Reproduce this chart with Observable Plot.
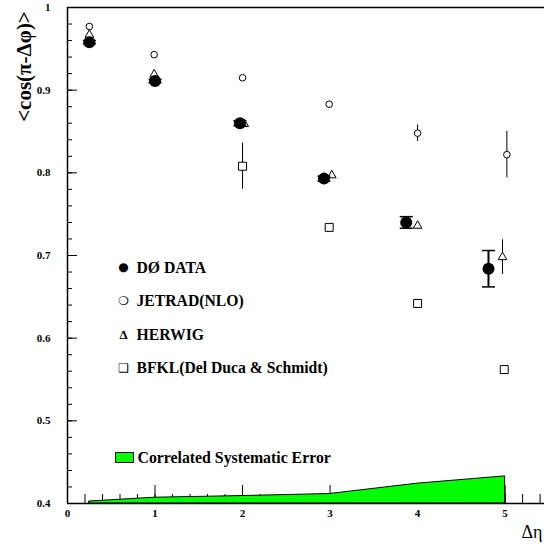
<!DOCTYPE html>
<html>
<head>
<meta charset="utf-8">
<script src="https://cdn.jsdelivr.net/npm/d3@7"></script>
<script src="https://cdn.jsdelivr.net/npm/@observablehq/plot@0.6"></script>
<style>
  html, body { margin: 0; padding: 0; background: white; overflow: hidden; }
</style>
</head>
<body>
<div id="chart"></div>
<script>
// ---- data ----
const dataEta  = [0.25, 1.0, 1.97, 2.93, 3.87, 4.81];
const dataCos  = [0.958, 0.911, 0.860, 0.793, 0.740, 0.684];
const dataErr  = [0.002, 0.002, 0.003, 0.003, 0.007, 0.022];

const jetradEta = [0.25, 0.99, 2.0, 2.99, 4.0, 5.02];
const jetradCos = [0.977, 0.943, 0.915, 0.883, 0.848, 0.822];
const jetradErr = [0, 0, 0, 0, 0.010, 0.028];

const herwigEta = [0.25, 0.99, 2.02, 3.02, 4.0, 4.97];
const herwigCos = [0.967, 0.919, 0.859, 0.797, 0.736, 0.698];
const herwigErr = [0, 0, 0, 0, 0.004, 0.021];

const bfklEta = [2.0, 2.99, 4.0, 4.99];
const bfklCos = [0.808, 0.734, 0.642, 0.562];
const bfklErr = [0.028, 0, 0, 0];

const sysEta = [0.25, 1, 2, 3, 4, 5];
const sysTop = [0.4024, 0.407, 0.409, 0.4115, 0.424, 0.4328];

const xMajor = [0, 1, 2, 3, 4, 5];
const xTickLabels = ["0", "1", "2", "3", "4", "5"];
const yMajor = [0.4, 0.5, 0.6, 0.7, 0.8, 0.9, 1.0];
const yTickLabels = ["0.4", "0.5", "0.6", "0.7", "0.8", "0.9", "1"];

const legendGlyphs = ["●", "❍", "Δ", "❑"];
const legendLabels = ["DØ DATA", "JETRAD(NLO)", "HERWIG", "BFKL(Del Duca & Schmidt)"];
const sysLabel = "Correlated Systematic Error";
const yTitle = "<cos(π-Δφ)>";
const xTitle = "Δη";

// ---- build tables ----
const rows = (xs, ys, es) => xs.map((x, i) => ({x, y: ys[i], err: es[i]}));
const data = rows(dataEta, dataCos, dataErr);
const jetrad = rows(jetradEta, jetradCos, jetradErr);
const herwig = rows(herwigEta, herwigCos, herwigErr);
const bfkl = rows(bfklEta, bfklCos, bfklErr);
const sys = sysEta.map((x, i) => ({x, top: sysTop[i]}));

const xMinor = d3.range(0, 5.5, 0.2);
const yMinor = d3.range(0.4, 1.001, 0.02);

const SERIF = "'Liberation Serif', 'Times New Roman', serif";
const capSymbol = {draw(ctx) { ctx.moveTo(-6.5, 0); ctx.lineTo(6.5, 0); }};
const keySymbol = {draw(ctx) { ctx.rect(-9, -5, 18, 10); }};

const bars = (rs, sw) => Plot.ruleX(rs.filter(d => d.err > 0), {x: "x", y1: d => d.y - d.err, y2: d => d.y + d.err, stroke: "black", strokeWidth: sw});
const label = (t, o) => Plot.text([t], {text: d => d, lineAnchor: "middle", fill: "black", fontFamily: SERIF, fontWeight: "bold", ...o});

const marks = [
  // tick marks (inward)
  Plot.axisY({ticks: yMinor, tickSize: 5, dx: 5, tickFormat: () => "", label: null, strokeWidth: 1}),
  Plot.axisY({ticks: yMajor, tickSize: 10, dx: 10, tickFormat: () => "", label: null, strokeWidth: 1}),
  Plot.axisX({ticks: xMinor, tickSize: 9, dy: -9, tickFormat: () => "", label: null, strokeWidth: 1}),
  Plot.axisX({ticks: xMajor, tickSize: 18, dy: -18, tickFormat: () => "", label: null, strokeWidth: 1}),
  // tick labels
  Plot.axisY({ticks: yMajor, tickSize: 0, tickPadding: 17, tickFormat: (d, i) => yTickLabels[i], label: null, fontSize: 11, fontFamily: SERIF, fontWeight: "bold"}),
  Plot.axisX({ticks: xMajor, tickSize: 0, tickPadding: 6, tickFormat: (d, i) => xTickLabels[i], label: null, fontSize: 11, fontFamily: SERIF, fontWeight: "bold"}),
  // systematic band
  Plot.areaY(sys, {x: "x", y1: 0.4, y2: "top", fill: "#00ff00", stroke: "black", strokeWidth: 1}),
  // frame lines
  Plot.ruleX([0], {stroke: "black", strokeWidth: 1.5}),
  Plot.ruleY([1.0], {stroke: "black", strokeWidth: 1.5}),
  Plot.ruleY([0.4], {stroke: "black", strokeWidth: 1.5}),
  // BFKL
  bars(bfkl, 1),
  Plot.dot(bfkl, {x: "x", y: "y", symbol: "square", r: 4.5, fill: "white", stroke: "black", strokeWidth: 1}),
  // JETRAD
  bars(jetrad, 1),
  Plot.dot(jetrad, {x: "x", y: "y", r: 3.3, fill: "white", stroke: "black", strokeWidth: 1}),
  // HERWIG
  bars(herwig, 1),
  Plot.dot(herwig, {x: "x", y: "y", symbol: "triangle", r: 3.2, fill: "white", stroke: "black", strokeWidth: 1}),
  // DATA
  bars(data, 2),
  Plot.dot(data, {x: "x", y: d => d.y + d.err, symbol: capSymbol, stroke: "black", strokeWidth: 1.5}),
  Plot.dot(data, {x: "x", y: d => d.y - d.err, symbol: capSymbol, stroke: "black", strokeWidth: 1.5}),
  Plot.dot(data, {x: "x", y: "y", r: 6, fill: "black"}),
  // legend
  ...legendGlyphs.map((g, i) => label(g, {frameAnchor: "top-left", dx: 56, dy: 260 + i * 33.5, textAnchor: "middle", fontSize: i === 2 ? 13 : 12, fontFamily: i === 2 ? SERIF : "DejaVu Sans"})),
  ...legendLabels.map((t, i) => label(t, {frameAnchor: "top-left", dx: 69, dy: 260 + i * 33.5, textAnchor: "start", fontSize: 15.7})),
  Plot.dot([sysLabel], {frameAnchor: "top-left", dx: 57, dy: 450, symbol: keySymbol, fill: "#00ff00", stroke: "black", strokeWidth: 1}),
  label(sysLabel, {frameAnchor: "top-left", dx: 70, dy: 450, textAnchor: "start", fontSize: 15.8}),
  // axis titles
  label(yTitle, {frameAnchor: "top-left", dx: -43, dy: 59, rotate: -90, textAnchor: "middle", fontSize: 21}),
  label(xTitle, {frameAnchor: "bottom-left", dx: 454, dy: 29, textAnchor: "start", fontSize: 18, fontWeight: "normal"})
];

const chart = Plot.plot({
  width: 544,
  height: 545,
  marginLeft: 67,
  marginRight: 0,
  marginTop: 7,
  marginBottom: 42,
  x: {domain: [0, 5.45]},
  y: {domain: [0.4, 1.0]},
  style: {fontFamily: SERIF, fontWeight: "bold", color: "black", background: "white", overflow: "hidden"},
  marks
});
document.getElementById("chart").appendChild(chart);
</script>
</body>
</html>
